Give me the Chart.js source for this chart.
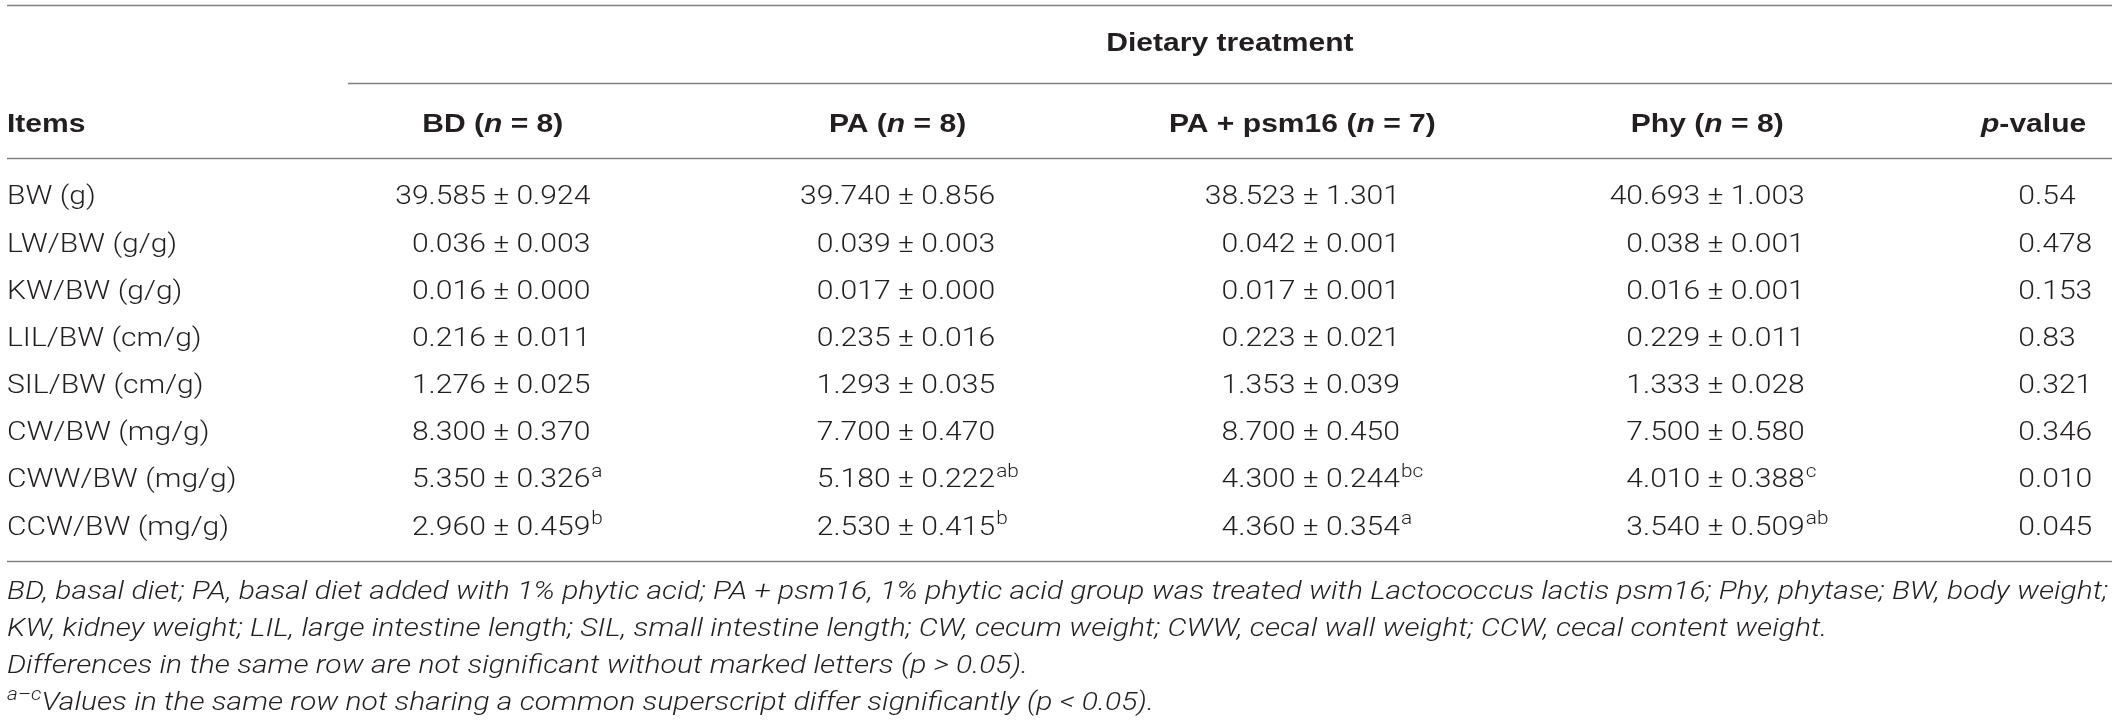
<!DOCTYPE html>
<html>
<head>
<meta charset="utf-8">
<script src="https://cdn.jsdelivr.net/npm/chart.js@4.4.1/dist/chart.umd.min.js"></script>
<style>
  html, body { margin: 0; padding: 0; background: #fff; }
  canvas { display: block; }
</style>
</head>
<body>
<canvas id="tbl" width="2118" height="721" style="width:2118px;height:721px"></canvas>
<script>
// table data
const items = ['BW (g)', 'LW/BW (g/g)', 'KW/BW (g/g)', 'LIL/BW (cm/g)', 'SIL/BW (cm/g)', 'CW/BW (mg/g)', 'CWW/BW (mg/g)', 'CCW/BW (mg/g)'];

const groups = ['BD', 'PA', 'PA + psm16', 'Phy'];
const groupN = [8, 8, 7, 8];

const bdMean = [39.585, 0.036, 0.016, 0.216, 1.276, 8.300, 5.350, 2.960];
const bdSem  = [0.924, 0.003, 0.000, 0.011, 0.025, 0.370, 0.326, 0.459];
const bdSup  = ['', '', '', '', '', '', 'a', 'b'];

const paMean = [39.740, 0.039, 0.017, 0.235, 1.293, 7.700, 5.180, 2.530];
const paSem  = [0.856, 0.003, 0.000, 0.016, 0.035, 0.470, 0.222, 0.415];
const paSup  = ['', '', '', '', '', '', 'ab', 'b'];

const psmMean = [38.523, 0.042, 0.017, 0.223, 1.353, 8.700, 4.300, 4.360];
const psmSem  = [1.301, 0.001, 0.001, 0.021, 0.039, 0.450, 0.244, 0.354];
const psmSup  = ['', '', '', '', '', '', 'bc', 'a'];

const phyMean = [40.693, 0.038, 0.016, 0.229, 1.333, 7.500, 4.010, 3.540];
const phySem  = [1.003, 0.001, 0.001, 0.011, 0.028, 0.580, 0.388, 0.509];
const phySup  = ['', '', '', '', '', '', 'c', 'ab'];

const pValues = ['0.54', '0.478', '0.153', '0.83', '0.321', '0.346', '0.010', '0.045'];

const footnotes = [
  'BD, basal diet; PA, basal diet added with 1% phytic acid; PA + psm16, 1% phytic acid group was treated with Lactococcus lactis psm16; Phy, phytase; BW, body weight;',
  'KW, kidney weight; LIL, large intestine length; SIL, small intestine length; CW, cecum weight; CWW, cecal wall weight; CCW, cecal content weight.',
  'Differences in the same row are not significant without marked letters (p > 0.05).',
  'Values in the same row not sharing a common superscript differ significantly (p < 0.05).'
];

// layout (axis units)
const colPos = [-0.2, 1, 2, 3, 4, 4.86];   // items, 4 groups, p-value
const yTitle = -3.25, yRuleMid = -2.38, yHead = -1.53, yRuleHead = -0.79;
const spanStart = 0.642;

// styles
const INK = '#231f20';
const RULE = '#808080';
const FS = 26;
const LIGHT = (it) => `${it ? 'italic ' : ''}300 ${FS}px Roboto, "Liberation Sans", sans-serif`;
const BOLD = (it) => `${it ? 'italic ' : ''}bold ${FS}px "Liberation Sans", Arial, sans-serif`;
const SUP = `300 18px Roboto, "Liberation Sans", sans-serif`;
const SUP_IT = `italic 300 18px Roboto, "Liberation Sans", sans-serif`;

const valueCols = [
  { mean: bdMean, sem: bdSem, sup: bdSup },
  { mean: paMean, sem: paSem, sup: paSup },
  { mean: psmMean, sem: psmSem, sup: psmSup },
  { mean: phyMean, sem: phySem, sup: phySup }
];

function cellText(col, i) {
  return col.mean[i].toFixed(3) + ' \u00b1 ' + col.sem[i].toFixed(3);
}

let hs = 1;

function runsWidth(ctx, runs) {
  let w = 0;
  runs.forEach(r => { ctx.font = r.font; w += ctx.measureText(r.t).width * hs; });
  return w;
}

function drawRuns(ctx, runs, x, midY, align) {
  const total = runsWidth(ctx, runs);
  let cx = align === 'right' ? x - total : align === 'center' ? x - total / 2 : x;
  const base = midY + FS * 0.36;
  runs.forEach(r => {
    ctx.font = r.font;
    const w = ctx.measureText(r.t).width * hs;
    ctx.save();
    ctx.translate(cx, base - (r.sup ? FS * 0.4 : 0));
    ctx.scale(hs, 1);
    ctx.fillText(r.t, 0, 0);
    ctx.restore();
    cx += w;
  });
  return cx;
}

const tablePlugin = {
  id: 'tablePlugin',
  afterDatasetsDraw(chart) {
    const ctx = chart.ctx;
    const { left, right, top, bottom } = chart.chartArea;
    const x = chart.scales.x, y = chart.scales.y;
    ctx.save();
    ctx.textBaseline = 'alphabetic';
    ctx.textAlign = 'left';
    ctx.fillStyle = INK;

    // fit horizontal scale to the first footnote line
    ctx.font = LIGHT(true);
    hs = (right - left - 4) / ctx.measureText(footnotes[0]).width;

    // rules
    ctx.strokeStyle = RULE;
    ctx.lineWidth = 1.6;
    const hline = (x0, x1, yy) => {
      ctx.beginPath(); ctx.moveTo(x0, Math.round(yy) + 0.5); ctx.lineTo(x1, Math.round(yy) + 0.5); ctx.stroke();
    };
    hline(left, right, top);
    hline(x.getPixelForValue(spanStart), right, y.getPixelForValue(yRuleMid));
    hline(left, right, y.getPixelForValue(yRuleHead));
    hline(left, right, bottom);

    // spanning header
    const spanMid = (x.getPixelForValue(spanStart) + right) / 2;
    drawRuns(ctx, [{ t: 'Dietary treatment', font: BOLD(false) }], spanMid, y.getPixelForValue(yTitle), 'center');

    // column headers
    const hy = y.getPixelForValue(yHead);
    drawRuns(ctx, [{ t: 'Items', font: BOLD(false) }], left, hy, 'left');
    groups.forEach((g, k) => {
      drawRuns(ctx, [
        { t: g + ' (', font: BOLD(false) },
        { t: 'n', font: BOLD(true) },
        { t: ' = ' + groupN[k] + ')', font: BOLD(false) }
      ], x.getPixelForValue(colPos[k + 1]), hy, 'center');
    });

    // cells, drawn at each dataset point
    chart.data.datasets.forEach((ds, k) => {
      const meta = chart.getDatasetMeta(k);
      if (ds.kind === 'label') {
        meta.data.forEach((el, i) => drawRuns(ctx, [{ t: items[i], font: LIGHT(false) }], left, el.y, 'left'));
      } else if (ds.kind === 'value') {
        const col = valueCols[ds.col];
        ctx.font = LIGHT(false);
        const maxW = Math.max(...items.map((_, i) => ctx.measureText(cellText(col, i)).width)) * hs;
        meta.data.forEach((el, i) => {
          const end = drawRuns(ctx, [{ t: cellText(col, i), font: LIGHT(false) }], el.x + maxW / 2, el.y, 'right');
          if (col.sup[i]) drawRuns(ctx, [{ t: col.sup[i], font: SUP, sup: true }], end + 1, el.y, 'left');
        });
      } else if (ds.kind === 'p') {
        ctx.font = LIGHT(false);
        const maxW = Math.max(...pValues.map(v => ctx.measureText(v).width)) * hs;
        meta.data.forEach((el, i) => drawRuns(ctx, [{ t: pValues[i], font: LIGHT(false) }], el.x - maxW / 2, el.y, 'left'));
        drawRuns(ctx, [
          { t: 'p', font: BOLD(true) },
          { t: '-value', font: BOLD(false) }
        ], meta.data[0].x + maxW / 2 - 6, hy, 'right');
      }
    });

    // footnotes below the table
    const fy = (n) => bottom + 29 + n * 37;
    drawRuns(ctx, [{ t: footnotes[0], font: LIGHT(true) }], left, fy(0), 'left');
    drawRuns(ctx, [{ t: footnotes[1], font: LIGHT(true) }], left, fy(1), 'left');
    drawRuns(ctx, [{ t: footnotes[2], font: LIGHT(true) }], left, fy(2), 'left');
    drawRuns(ctx, [
      { t: 'a\u2013c', font: SUP_IT, sup: true },
      { t: footnotes[3], font: LIGHT(true) }
    ], left, fy(3), 'left');
    ctx.restore();
  }
};

const rowIdx = items.map((_, i) => i);
const datasets = [
  { kind: 'label', data: rowIdx.map(i => ({ x: colPos[0], y: i })) },
  ...valueCols.map((c, k) => ({ kind: 'value', col: k, data: rowIdx.map(i => ({ x: colPos[k + 1], y: i })) })),
  { kind: 'p', data: rowIdx.map(i => ({ x: colPos[5], y: i })) }
];
datasets.forEach(d => { d.pointRadius = 0; d.pointHoverRadius = 0; d.showLine = false; });

new Chart(document.getElementById('tbl'), {
  type: 'scatter',
  data: { datasets },
  options: {
    responsive: false,
    devicePixelRatio: 1,
    animation: false,
    events: [],
    layout: { padding: { left: 7, right: 6, top: 5, bottom: 160 } },
    plugins: { legend: { display: false }, tooltip: { enabled: false }, title: { display: false } },
    scales: {
      x: { type: 'linear', min: -0.2, max: 5, display: false },
      y: { type: 'linear', min: -4.03, max: 7.76, reverse: true, display: false }
    }
  },
  plugins: [tablePlugin]
});
</script>
</body>
</html>
